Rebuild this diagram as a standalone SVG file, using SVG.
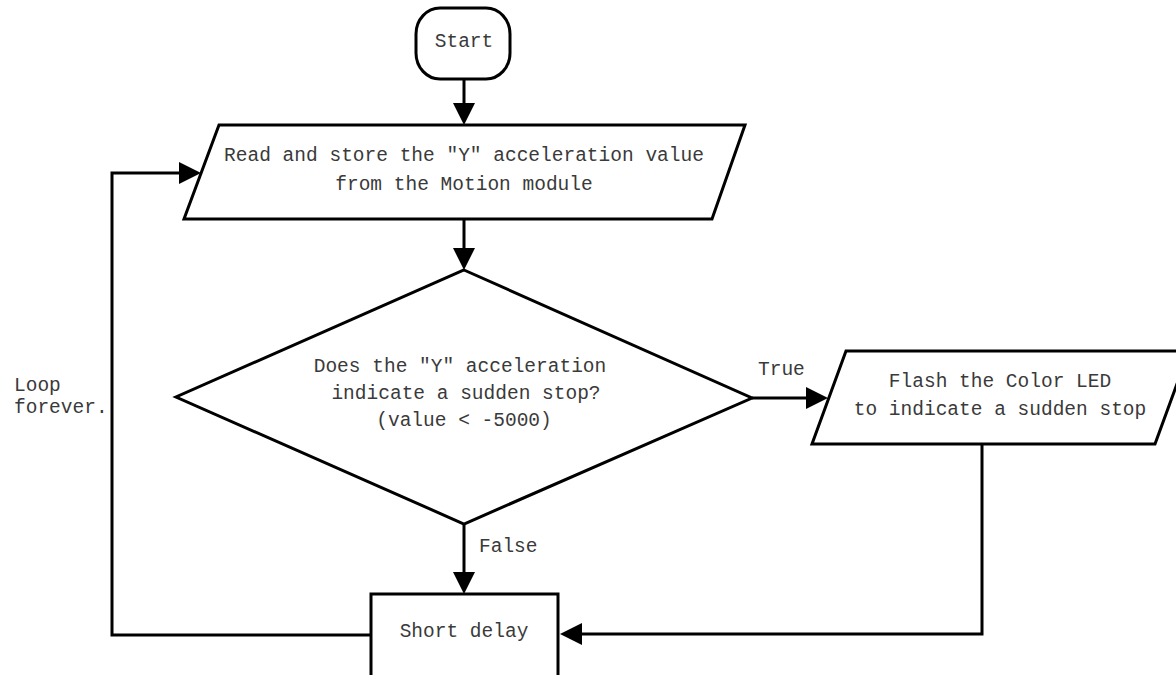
<svg xmlns="http://www.w3.org/2000/svg" width="1176" height="675" viewBox="0 0 1176 675">
<style>
.shape{fill:#fff;stroke:#000;stroke-width:3;stroke-linejoin:miter}
.conn{fill:none;stroke:#000;stroke-width:3}
text{font-family:"Liberation Mono","Courier New",monospace;font-size:19.5px;fill:#3a3a3a}
.c{text-anchor:middle}
</style>
<defs>
<marker id="arrow" viewBox="0 0 22 22" refX="12" refY="11" markerWidth="22" markerHeight="22" markerUnits="userSpaceOnUse" orient="auto">
<path d="M0,0 L22,11 L0,22 Z" fill="#000"/>
</marker>
</defs>
<rect width="1176" height="675" fill="#fff"/>
<g id="connectors">
<path class="conn" d="M464,79 V115" marker-end="url(#arrow)"/>
<path class="conn" d="M464,219 V260" marker-end="url(#arrow)"/>
<path class="conn" d="M752,398 H818" marker-end="url(#arrow)"/>
<path class="conn" d="M464,524 V584" marker-end="url(#arrow)"/>
<path class="conn" d="M982,444 V634 H570" marker-end="url(#arrow)"/>
<path class="conn" d="M371,635 H112 V173 H191" marker-end="url(#arrow)"/>
<text x="758" y="375">True</text>
<text x="479" y="552">False</text>
<text x="14" y="391">Loop</text>
<text x="14" y="413">forever.</text>
</g>
<g id="start">
<rect class="shape" x="416" y="8" width="94" height="71" rx="24" ry="26"/>
<text class="c" x="464" y="47">Start</text>
</g>
<g id="read">
<polygon class="shape" points="219,125 745,125 712,219 184,219"/>
<text class="c" x="464" y="161">Read and store the "Y" acceleration value</text>
<text class="c" x="464" y="190">from the Motion module</text>
</g>
<g id="decision">
<polygon class="shape" points="464,270 752,398 464,524 176,397"/>
<text class="c" x="460" y="372">Does the "Y" acceleration</text>
<text class="c" x="466" y="399">indicate a sudden stop?</text>
<text class="c" x="464" y="426">(value &lt; -5000)</text>
</g>
<g id="flash">
<polygon class="shape" points="846,351 1189,351 1155,444 812,444"/>
<text class="c" x="1000" y="387">Flash the Color LED</text>
<text class="c" x="1000" y="415">to indicate a sudden stop</text>
</g>
<g id="delay">
<rect class="shape" x="371" y="594" width="187" height="110"/>
<text class="c" x="464" y="637">Short delay</text>
</g>
</svg>
